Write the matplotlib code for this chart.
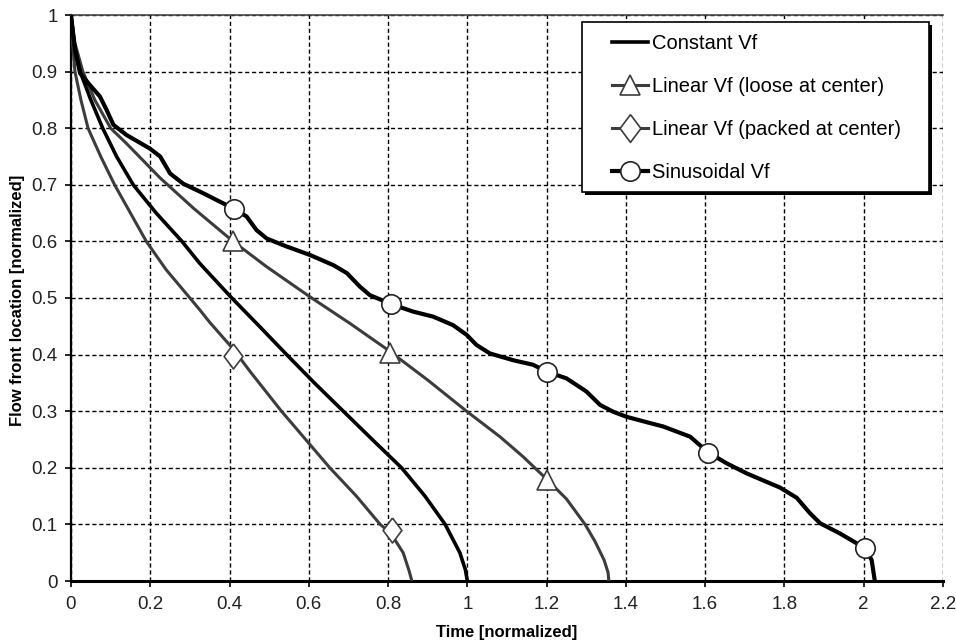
import matplotlib
matplotlib.use("Agg")
import matplotlib.pyplot as plt
from matplotlib.lines import Line2D
from matplotlib.patches import Rectangle

plt.rcParams['font.family'] = ['Liberation Sans', 'DejaVu Sans']
plt.rcParams['lines.solid_joinstyle'] = 'round'

# ---- data ----
const_t = [0.0, 0.008, 0.023, 0.05, 0.08, 0.115, 0.157, 0.215, 0.28, 0.325, 0.403, 0.485, 0.544, 0.614, 0.687, 0.76, 0.834, 0.893, 0.944, 0.981, 0.995, 1.0]
const_y = [1.0, 0.95, 0.90, 0.85, 0.80, 0.75, 0.70, 0.65, 0.60, 0.561, 0.502, 0.443, 0.40, 0.35, 0.30, 0.25, 0.20, 0.15, 0.10, 0.05, 0.02, 0.0]

loose_t = [0.0, 0.01, 0.03, 0.06, 0.10, 0.14, 0.225, 0.31, 0.409, 0.494, 0.603, 0.704, 0.796, 0.90, 0.998, 1.082, 1.14, 1.20, 1.25, 1.297, 1.322, 1.345, 1.355, 1.357]
loose_y = [1.0, 0.95, 0.90, 0.85, 0.80, 0.773, 0.712, 0.658, 0.60, 0.555, 0.502, 0.455, 0.41, 0.355, 0.30, 0.255, 0.22, 0.18, 0.145, 0.10, 0.07, 0.037, 0.015, 0.0]

packed_t = [0.0, 0.004, 0.01, 0.025, 0.043, 0.075, 0.11, 0.15, 0.19, 0.24, 0.30, 0.325, 0.35, 0.409, 0.452, 0.531, 0.592, 0.653, 0.72, 0.78, 0.806, 0.838, 0.853, 0.86]
packed_y = [1.0, 0.95, 0.90, 0.85, 0.80, 0.75, 0.70, 0.65, 0.60, 0.55, 0.50, 0.479, 0.457, 0.41, 0.37, 0.30, 0.25, 0.20, 0.15, 0.10, 0.085, 0.05, 0.018, 0.0]

sin_t = [0.0, 0.01, 0.023, 0.048, 0.073, 0.09, 0.107, 0.14, 0.199, 0.225, 0.25, 0.283, 0.334, 0.376, 0.41, 0.443, 0.468, 0.494, 0.544, 0.603, 0.662, 0.696, 0.729, 0.754, 0.809, 0.863, 0.914, 0.964, 0.998, 1.023, 1.057, 1.116, 1.166, 1.20, 1.25, 1.30, 1.335, 1.368, 1.402, 1.461, 1.494, 1.562, 1.608, 1.654, 1.705, 1.789, 1.831, 1.864, 1.89, 1.94, 2.003, 2.02, 2.028]
sin_y = [1.0, 0.938, 0.897, 0.876, 0.856, 0.832, 0.806, 0.788, 0.764, 0.75, 0.72, 0.702, 0.685, 0.670, 0.658, 0.644, 0.62, 0.605, 0.591, 0.576, 0.558, 0.544, 0.52, 0.505, 0.489, 0.476, 0.467, 0.452, 0.435, 0.417, 0.402, 0.39, 0.382, 0.37, 0.358, 0.335, 0.311, 0.299, 0.29, 0.279, 0.273, 0.255, 0.227, 0.208, 0.19, 0.165, 0.147, 0.12, 0.102, 0.084, 0.058, 0.037, 0.0]

tri_t = [0.409, 0.806, 1.20]
tri_y = [0.600, 0.403, 0.178]
dia_t = [0.409, 0.809]
dia_y = [0.397, 0.09]
circ_t = [0.41, 0.808, 1.20, 1.608, 2.003]
circ_y = [0.658, 0.489, 0.370, 0.227, 0.058]

labels = ["Constant Vf", "Linear Vf (loose at center)", "Linear Vf (packed at center)", "Sinusoidal Vf"]
xticks = [0, 0.2, 0.4, 0.6, 0.8, 1, 1.2, 1.4, 1.6, 1.8, 2, 2.2]
xticklabels = ["0", "0.2", "0.4", "0.6", "0.8", "1", "1.2", "1.4", "1.6", "1.8", "2", "2.2"]
yticks = [0, 0.1, 0.2, 0.3, 0.4, 0.5, 0.6, 0.7, 0.8, 0.9, 1]
yticklabels = ["0", "0.1", "0.2", "0.3", "0.4", "0.5", "0.6", "0.7", "0.8", "0.9", "1"]

# ---- figure ----
fig = plt.figure(figsize=(9.56, 6.44), dpi=100)
ax = fig.add_axes([71/956, 1-581/644, 872/956, 566/644])

gray = '#3c3c3c'
ms = 14
diamond = [(0, 1), (0.75, 0), (0, -1), (-0.75, 0), (0, 1)]
ax.plot(packed_t, packed_y, color=gray, lw=2.2, zorder=3)
ax.plot(loose_t, loose_y, color=gray, lw=2.2, zorder=3)
ax.plot(const_t, const_y, color='black', lw=2.6, zorder=4)
ax.plot(sin_t, sin_y, color='black', lw=3.0, zorder=4)
ax.plot(tri_t, tri_y, ls='none', marker='^', ms=ms, mfc='white', mec=gray, mew=1.2, zorder=5)
ax.plot(dia_t, dia_y, ls='none', marker=diamond, ms=18, mfc='white', mec=gray, mew=1.2, zorder=5)
ax.plot(circ_t, circ_y, ls='none', marker='o', ms=ms, mfc='white', mec='#222222', mew=1.2, zorder=5)

ax.set_xlim(0, 2.2)
ax.set_ylim(0, 1)
ax.set_xticks(xticks)
ax.set_xticklabels(xticklabels)
ax.set_yticks(yticks)
ax.set_yticklabels(yticklabels)
ax.tick_params(axis='both', direction='out', length=4.5, width=1.2, labelsize=13.5,
               labelcolor='#222222', color='black')
ax.tick_params(axis='x', pad=6)
ax.tick_params(axis='y', pad=5)
ax.grid(True, color='black', ls=(0, (3, 2)), lw=1.0)
ax.set_axisbelow(True)
ax.spines['right'].set_visible(False)
ax.spines['top'].set_color('#444444')
ax.spines['top'].set_linewidth(1.2)
ax.spines['left'].set_linewidth(1.6)
ax.spines['bottom'].set_linewidth(2.2)

ax.set_xlabel("Time [normalized]", fontsize=12, fontweight='bold')
ax.xaxis.set_label_coords(0.499, -0.0777)
ax.set_ylabel("Flow front location [normalized]", fontsize=12, fontweight='bold')
ax.yaxis.set_label_coords(-0.0522, 0.495)

# legend frame with solid shadow
fx, fy, fw, fh = 0.586, 0.687, 0.398, 0.301
ax.add_patch(Rectangle((fx + 3/872, fy - 3/566), fw, fh, transform=ax.transAxes,
                       facecolor='black', edgecolor='none', zorder=9, clip_on=False))
ax.add_patch(Rectangle((fx, fy), fw, fh, transform=ax.transAxes,
                       facecolor='white', edgecolor='black', lw=1.2, zorder=9.5, clip_on=False))

handles = [
    Line2D([], [], color='black', lw=2.6),
    Line2D([], [], color=gray, lw=2.2, marker='^', ms=ms, mfc='white', mec=gray, mew=1.2),
    Line2D([], [], color=gray, lw=2.2, marker=diamond, ms=20, mfc='white', mec=gray, mew=1.2),
    Line2D([], [], color='black', lw=3.0, marker='o', ms=ms, mfc='white', mec='#222222', mew=1.2),
]
leg = ax.legend(handles, labels, loc='upper left', bbox_to_anchor=(0.6204, 0.9668),
                fontsize=14.5, frameon=False, borderpad=0, labelspacing=1.19,
                handlelength=1.79, handletextpad=0.2, borderaxespad=0, numpoints=1)
leg.set_zorder(10)

fig.savefig("out.png", dpi=100)
